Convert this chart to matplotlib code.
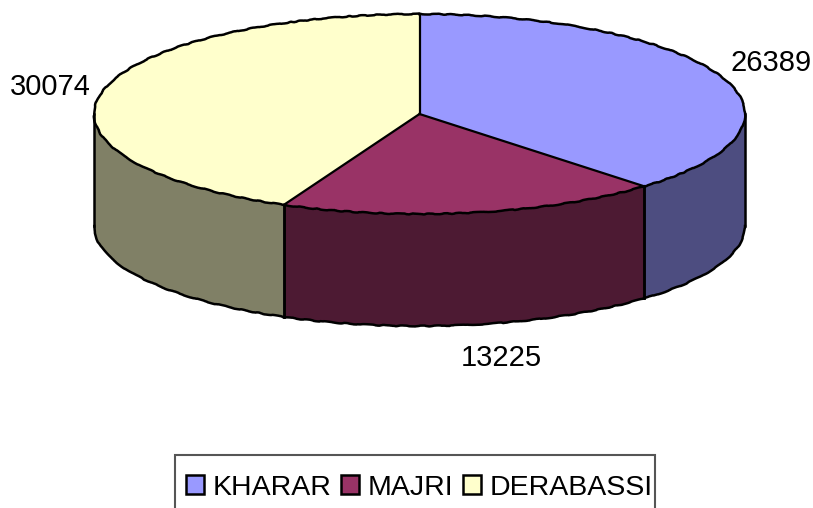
import numpy as np
import matplotlib
matplotlib.use('Agg')
import matplotlib.pyplot as plt
from matplotlib.patches import Rectangle

plt.rcParams['font.family'] = ['Liberation Sans', 'DejaVu Sans']

# Datos
labels = ['KHARAR', 'MAJRI', 'DERABASSI']
values = [26389, 13225, 30074]
top_colors = ['#9999FF', '#993366', '#FFFFCC']
side_colors = ['#4D4D80', '#4D1A33', '#808066']

# Geometria del disco (pixeles)
W, H = 813, 508
cx, cy = 419.5, 114
a, b = 325.5, 100
depth = 112
k = a / b   # y en datos = pixeles * k
sketch = dict(scale=0.45, length=30, randomness=6)

fig = plt.figure(figsize=(W/100, H/100), dpi=100)
ax = fig.add_axes([0, 0, 1, 1])

wedges, _ = ax.pie(values, colors=top_colors, startangle=90, counterclock=False,
                   radius=a, center=(cx, 0),
                   wedgeprops=dict(edgecolor='none', linewidth=0, zorder=3))
ax.set_aspect('auto')
ax.set_xlim(0, W)
ax.set_ylim((cy - H) * k, cy * k)
ax.axis('off')

edges = np.cumsum([0] + values) / sum(values) * 360

# Pared lateral: solo la mitad frontal (90 a 270 grados desde arriba, horario)
for i in range(len(values)):
    t0, t1 = max(edges[i], 90), min(edges[i+1], 270)
    t = np.radians(np.linspace(t0, t1, 80))
    x = cx + a * np.sin(t)
    y = a * np.cos(t)
    ax.fill(np.r_[x, x[::-1]], np.r_[y, y[::-1] - depth * k],
            facecolor=side_colors[i], edgecolor='none', zorder=2)
    # arco inferior irregular y verticales rectas
    low, = ax.plot(x, y - depth * k, color='black', lw=1.8, zorder=4)
    low.set_sketch_params(**sketch)
    ax.plot([x[0], x[0]], [y[0], y[0] - depth * k], color='black', lw=1.8, zorder=4)
    ax.plot([x[-1], x[-1]], [y[-1], y[-1] - depth * k], color='black', lw=1.8, zorder=4)

# Contorno superior y radios
for i in range(len(values)):
    t = np.radians(np.linspace(edges[i], edges[i+1], 150))
    arc, = ax.plot(cx + a * np.sin(t), a * np.cos(t), color='black', lw=1.8, zorder=4)
    arc.set_sketch_params(**sketch)
    ax.plot([cx, cx + a * np.sin(t[0])], [0, a * np.cos(t[0])], color='black', lw=1.6, zorder=4)

# Etiquetas de valores
ax.text(771, (cy - 63) * k, str(values[0]), fontsize=21, ha='center', va='center', color='black')
ax.text(501, (cy - 358) * k, str(values[1]), fontsize=21, ha='center', va='center', color='black')
ax.text(50, (cy - 87) * k, str(values[2]), fontsize=21, ha='center', va='center', color='black')

# Marco de la leyenda, cortado por el borde inferior
ax.add_patch(Rectangle((175/W, -0.02), 480/W, (H - 455)/H + 0.02, transform=ax.transAxes,
                       facecolor='white', edgecolor='#555555', linewidth=1.5, zorder=5))

leg = ax.legend(wedges, labels, ncol=3, loc='lower left',
                bbox_to_anchor=(180/W, 1/H), fontsize=20.5, frameon=False, borderpad=0.22,
                borderaxespad=0, handlelength=0.62, handleheight=0.62, handletextpad=0.3,
                columnspacing=0.35, labelspacing=0)
leg.set_zorder(6)
for h in leg.legend_handles:
    h.set_edgecolor('black')
    h.set_linewidth(1.8)

fig.savefig('out.png', dpi=100)
